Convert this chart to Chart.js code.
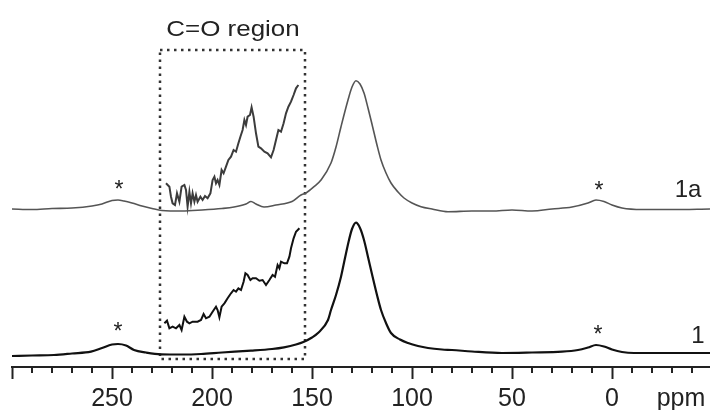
<!DOCTYPE html>
<html>
<head>
<meta charset="utf-8">
<script src="https://cdn.jsdelivr.net/npm/chart.js@4.4.0/dist/chart.umd.min.js"></script>
<style>
  html, body { margin: 0; padding: 0; background: #ffffff; }
  #wrap { width: 710px; height: 410px; }
</style>
</head>
<body>
<div id="wrap"><canvas id="c" width="710" height="410"></canvas></div>
<script>
// ---- Data (chemical shift in ppm, intensity in arbitrary units) ----
const ppm1a = [300,290,280,270,260,255,250,247,244,240,235,230,225,215,205,195,189,183,180.5,178,174,168,160,155.5,153,149,145.5,140.5,138,135.5,132,130,128,126,124,122,119.7,117.5,115.5,113,110.5,107,104,100,95.5,90,82,70,60,50,40,30,20,12,8,4,0,-5,-15,-30,-49];
const int1a = [158,157.5,158.5,159,161,163,166.5,167,166,164,161,158.5,156.5,156,157,158.5,160,163,165.5,163,160,162,165.5,172,174,180.3,187,204,220,240.3,267,280,286.3,283,274,259,240.3,222,207,194,184,175,169,164,160.3,158,155.3,156,156,157,156,158,160,164,167,165.5,162,159,157.5,157.5,158];

const ppm1 = [300,290,279,270,260.5,255,250,247,243,239,233,225.5,215,205.5,195,180.5,170,164,158,154,150,147,142,140.5,138,135.5,133.5,131.5,130,128,126,124,122,119.7,117.5,115.5,113,110.5,106,102,97,92,85,80,70,55,40,25,17,12,8,4,0,-5,-11,-25,-49];
const int1 = [11,11.5,12,13.5,15.3,19,22.5,23,21.5,17,14.5,12.7,12.5,13,14.5,16.3,18,19.7,22.5,25.3,29.5,34,47,57,72,90.3,109,127,138,144.3,139,127,110,90.3,72,57,44,34,27.5,24,21,19,17.5,17,15.5,14,14.5,15.3,17,19.5,22,20.5,17.5,15,14,14,14];

// C=O region, vertically expanded
const ppmInset1a = [223,221.3,220.5,219.7,218.5,217.5,216.3,215.2,213.8,213,212.2,211.3,210.5,209.7,208.8,208,207.2,205.8,204.7,203.5,202.2,200.8,199.7,198.8,198,197.2,196.3,195.2,194.2,193,191.8,190.5,189.2,188,186.8,185.8,184.7,183.8,183,182.2,181,180.2,179.2,178,176.8,175.5,173.8,172.2,170.5,169.2,168,166.8,165.5,164.2,163,161.8,160.5,159.2,158,156.8];
const intInset1a = [183.7,180.3,170.3,163.7,162,173.7,165.3,180.3,182,177,160.3,175.3,163.7,173.7,165.3,172,165.3,170.3,167,171,168.7,173.7,187,190.3,183.7,187,182,197,193.7,200.3,207,210.3,217,215.3,223.7,230.3,237,247,242,250.3,252,259.7,250.3,233.7,220.3,218.7,215.3,213.7,209.7,217,227,237,235.3,243.7,253.7,260.3,265.3,272,278.7,282];

const ppmInset1 = [223.8,222.5,221.3,219.7,218,216.3,215.2,213.8,212.5,211.3,209.7,207.2,205.5,204.2,203,201.3,199.7,198,197.2,196.3,195.2,193.8,192.2,190.5,189.2,188,186.8,185.5,184.2,183.3,182.2,180.8,179.7,178,176.3,174.7,173,171.3,169.7,168.5,167.2,166.3,165.5,163.8,162.5,161.3,160.5,159.2,158,156.3];
const intInset1 = [43.7,46.3,38.7,40.3,38.7,42,37,50.3,45.3,43.7,45.3,45.3,47,53,48.7,50.3,55.3,60.3,57,49.7,60.3,63.7,68.7,73.7,77,75.3,78.7,77,85.3,93.7,92,87,88.7,88.7,86.3,87,82,87,92,90.3,102,98.7,105.3,103.7,103.7,110.3,118.7,128.7,135.3,138.7];

// Dotted frame around the C=O region
const boxPpm = [226, 153.5];
const boxInt = [8, 317];

// Axis ticks
const majorTicks = [300, 250, 200, 150, 100, 50, 0];
const tickLabels = ['', '250', '200', '150', '100', '50', '0'];
const minorTicks = [290,280,270,260,240,230,220,210,190,180,170,160,140,130,120,110,90,80,70,60,40,30,20,10,-10,-20,-30,-40];

// Annotations
const stars = [[246.5, 180], [6.5, 179], [247, 38], [7, 35]];
const traceLabels = [['1a', -38, 177], ['1', -43, 31]];
const regionTitle = ['C=O region', 189.5, 337];

const zip = (xs, ys) => xs.map((x, i) => ({ x: x, y: ys[i] }));
const FONT = "'Liberation Sans', Arial, sans-serif";

const overlay = {
  id: 'overlay',
  afterDraw(chart) {
    const ctx = chart.ctx;
    const xs = chart.scales.x, ys = chart.scales.y;
    ctx.save();
    // minor ticks
    ctx.strokeStyle = '#222';
    ctx.lineWidth = 2;
    const y0 = xs.top;
    minorTicks.forEach(v => {
      const px = Math.round(xs.getPixelForValue(v));
      ctx.beginPath();
      ctx.moveTo(px, y0);
      ctx.lineTo(px, y0 + 6);
      ctx.stroke();
    });
    // ppm unit label
    ctx.fillStyle = '#222';
    ctx.font = '25px ' + FONT;
    ctx.textAlign = 'center';
    ctx.textBaseline = 'top';
    ctx.fillText('ppm', xs.getPixelForValue(-34.5), y0 + 12 + 8);
    // stars
    ctx.font = '23px ' + FONT;
    ctx.textBaseline = 'middle';
    stars.forEach(s => ctx.fillText('*', xs.getPixelForValue(s[0]), ys.getPixelForValue(s[1]) + 4));
    // trace labels
    ctx.font = '24px ' + FONT;
    traceLabels.forEach(t => ctx.fillText(t[0], xs.getPixelForValue(t[1]), ys.getPixelForValue(t[2])));
    // region title (slightly wide lettering as in the original)
    ctx.font = '22px ' + FONT;
    ctx.translate(xs.getPixelForValue(regionTitle[1]), ys.getPixelForValue(regionTitle[2]));
    ctx.scale(1.18, 1);
    ctx.fillText(regionTitle[0], 0, 0);
    ctx.restore();
  }
};

new Chart(document.getElementById('c'), {
  type: 'line',
  data: {
    datasets: [
      { data: zip(ppm1a, int1a), borderColor: '#555555', borderWidth: 1.6, cubicInterpolationMode: 'monotone' },
      { data: zip(ppm1, int1), borderColor: '#111111', borderWidth: 2.2, cubicInterpolationMode: 'monotone' },
      { data: zip(ppmInset1a, intInset1a), borderColor: '#3c3c3c', borderWidth: 2 },
      { data: zip(ppmInset1, intInset1), borderColor: '#111111', borderWidth: 2 },
      { data: zip([boxPpm[0], boxPpm[1], boxPpm[1], boxPpm[0], boxPpm[0]], [boxInt[1], boxInt[1], boxInt[0], boxInt[0], boxInt[1]]),
        borderColor: '#333333', borderWidth: 2.5, borderDash: [2.5, 4.5], borderCapStyle: 'butt' }
    ]
  },
  options: {
    responsive: false,
    animation: false,
    devicePixelRatio: 1,
    layout: { padding: { left: 12, right: 0, top: 0, bottom: 0 } },
    elements: { point: { radius: 0 }, line: { tension: 0, fill: false } },
    plugins: { legend: { display: false }, tooltip: { enabled: false } },
    scales: {
      x: {
        type: 'linear',
        reverse: true,
        min: -49,
        max: 300,
        position: 'bottom',
        border: { display: true, color: '#222', width: 2 },
        grid: { display: true, drawOnChartArea: false, drawTicks: true, tickLength: 12, tickWidth: 2, tickColor: '#222' },
        ticks: {
          autoSkip: false, maxRotation: 0, padding: 5, color: '#222',
          font: { size: 25, family: FONT },
          callback: (v) => tickLabels[majorTicks.indexOf(v)] ?? ''
        },
        afterBuildTicks: (s) => { s.ticks = majorTicks.map(v => ({ value: v })); },
        afterFit: (s) => { s.height = 43; }
      },
      y: { display: false, min: 0, max: 367 }
    }
  },
  plugins: [overlay]
});
</script>
</body>
</html>
